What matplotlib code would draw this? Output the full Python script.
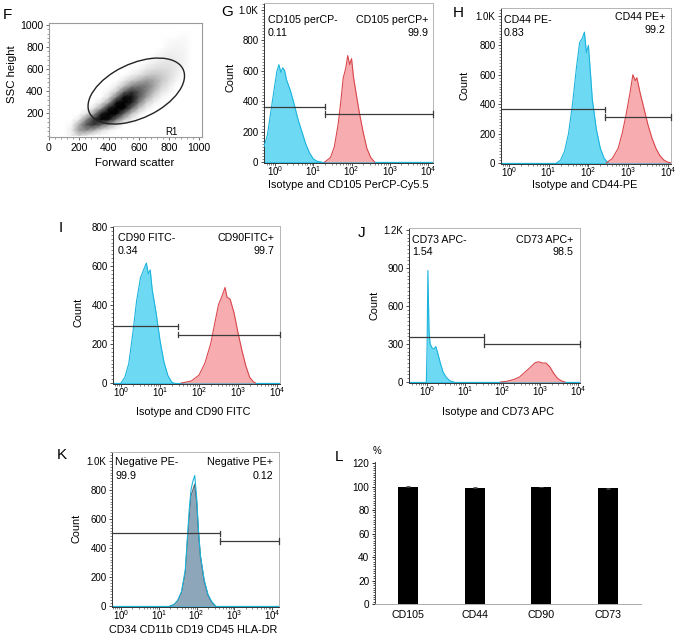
import numpy as np
import matplotlib
matplotlib.use('Agg')
import matplotlib.pyplot as plt
from matplotlib.patches import Ellipse
from matplotlib.colors import PowerNorm
from matplotlib.ticker import AutoMinorLocator, FixedLocator, FixedFormatter, LogLocator, NullFormatter

plt.rcParams['font.family'] = ['Liberation Sans', 'DejaVu Sans']
plt.rcParams['mathtext.fontset'] = 'custom'
plt.rcParams['mathtext.rm'] = 'Liberation Sans'
plt.rcParams['mathtext.it'] = 'Liberation Sans:italic'
plt.rcParams['mathtext.bf'] = 'Liberation Sans:bold'

# ---------------- data ----------------
# F: forward / side scatter density (relative darkness, 0-10)
f_x = [100, 150, 200, 250, 300, 350, 400, 450, 500, 550, 600, 650, 700, 750, 800, 850, 900, 950]
f_y = [0, 50, 100, 150, 200, 250, 300, 350, 400, 450, 500, 550, 600, 650, 700, 750, 800, 850, 900, 950]
f_density = [
    [0, 0.3, 1.2, 0.5, 0, 0, 0, 0, 0, 0, 0, 0, 0, 0, 0, 0, 0, 0],
    [0, 0.5, 3.0, 3.5, 2.5, 1, 0.3, 0, 0, 0, 0, 0, 0, 0, 0, 0, 0, 0],
    [0, 0.2, 2.5, 5.5, 6.5, 5, 3, 1.2, 0, 0, 0, 0, 0, 0, 0, 0, 0, 0],
    [0, 0, 0.6, 3.5, 6.5, 9, 8, 4.5, 2, 0.5, 0, 0, 0, 0, 0, 0, 0, 0],
    [0, 0, 0, 0.8, 3, 7.5, 10, 8.5, 5, 2, 0.5, 0, 0, 0, 0, 0, 0, 0],
    [0, 0, 0, 0, 0.8, 3, 7.5, 10, 8.5, 5, 2, 0.5, 0, 0, 0, 0, 0, 0],
    [0, 0, 0, 0, 0, 0.8, 3, 8, 9.5, 7.5, 4, 1.5, 0.5, 0, 0, 0, 0, 0],
    [0, 0, 0, 0, 0, 0, 1, 4, 8, 8, 5.5, 3, 1.2, 0.3, 0, 0, 0, 0],
    [0, 0, 0, 0, 0, 0, 0.3, 1.5, 4.5, 6.5, 5.5, 3.8, 2.2, 0.8, 0.3, 0, 0, 0],
    [0, 0, 0, 0, 0, 0, 0, 0.5, 1.8, 3.5, 4.2, 4, 2.8, 1.4, 0.6, 0, 0, 0],
    [0, 0, 0, 0, 0, 0, 0, 0, 0.6, 1.5, 2.3, 3, 2.7, 1.8, 1.0, 0.3, 0, 0],
    [0, 0, 0, 0, 0, 0, 0, 0, 0, 0.4, 0.8, 1.5, 1.8, 1.6, 1.1, 0.5, 0, 0],
    [0, 0, 0, 0, 0, 0, 0, 0, 0, 0, 0.2, 0.7, 1.0, 1.1, 1.0, 0.6, 0.2, 0],
    [0, 0, 0, 0, 0, 0, 0, 0, 0, 0, 0, 0.2, 0.5, 0.7, 0.8, 0.6, 0.3, 0],
    [0, 0, 0, 0, 0, 0, 0, 0, 0, 0, 0, 0, 0.2, 0.4, 0.6, 0.5, 0.3, 0],
    [0, 0, 0, 0, 0, 0, 0, 0, 0, 0, 0, 0, 0, 0.2, 0.4, 0.4, 0.3, 0],
    [0, 0, 0, 0, 0, 0, 0, 0, 0, 0, 0, 0, 0, 0, 0.2, 0.3, 0.2, 0],
    [0, 0, 0, 0, 0, 0, 0, 0, 0, 0, 0, 0, 0, 0, 0.1, 0.2, 0.2, 0],
    [0, 0, 0, 0, 0, 0, 0, 0, 0, 0, 0, 0, 0, 0, 0, 0, 0.1, 0],
    [0, 0, 0, 0, 0, 0, 0, 0, 0, 0, 0, 0, 0, 0, 0, 0, 0, 0],
]
f_gate_center = (583, 402)
f_gate_width = 750
f_gate_height = 454
f_gate_angle = 40
f_gate_name = 'R1'

# G: CD105 (x in log10 units)
g_iso_x = [-0.29, -0.2, -0.1, 0.0, 0.05, 0.1, 0.15, 0.2, 0.25, 0.3, 0.4, 0.5, 0.6, 0.7, 0.8, 0.9, 1.0, 1.1, 1.2]
g_iso_y = [100, 180, 350, 520, 600, 640, 590, 620, 600, 540, 470, 380, 280, 200, 120, 60, 20, 5, 0]
g_pos_x = [1.3, 1.45, 1.55, 1.65, 1.72, 1.78, 1.85, 1.9, 1.95, 2.0, 2.05, 2.12, 2.2, 2.3, 2.4, 2.5, 2.6]
g_pos_y = [0, 30, 100, 250, 400, 550, 620, 700, 640, 680, 560, 450, 330, 200, 90, 30, 0]
g_split, g_neg_level, g_pos_level = 1.31, 365, 315
g_labels = ['CD105 perCP-', '0.11', 'CD105 perCP+', '99.9']

# H: CD44
h_iso_x = [1.2, 1.3, 1.4, 1.5, 1.6, 1.7, 1.78, 1.85, 1.9, 1.95, 2.0, 2.05, 2.1, 2.2, 2.3, 2.4, 2.5]
h_iso_y = [0, 20, 80, 200, 400, 650, 820, 850, 890, 750, 800, 620, 430, 230, 100, 30, 0]
h_pos_x = [2.45, 2.6, 2.75, 2.85, 2.95, 3.05, 3.12, 3.18, 3.22, 3.3, 3.4, 3.5, 3.6, 3.7, 3.8, 3.9, 4.0, 4.08]
h_pos_y = [0, 30, 100, 200, 330, 480, 600, 560, 580, 480, 370, 260, 170, 100, 50, 20, 5, 0]
h_split, h_neg_level, h_pos_level = 2.41, 365, 312
h_labels = ['CD44 PE-', '0.83', 'CD44 PE+', '99.2']

# I: CD90
i_iso_x = [0.0, 0.1, 0.2, 0.3, 0.4, 0.5, 0.6, 0.65, 0.7, 0.75, 0.8, 0.9, 1.0, 1.1, 1.2, 1.3, 1.35]
i_iso_y = [0, 30, 100, 250, 420, 540, 590, 615, 560, 580, 480, 360, 220, 110, 40, 5, 0]
i_pos_x = [1.55, 1.8, 2.0, 2.15, 2.3, 2.4, 2.5, 2.6, 2.67, 2.72, 2.8, 2.9, 3.0, 3.1, 3.2, 3.3, 3.4, 3.45]
i_pos_y = [0, 10, 40, 100, 200, 300, 400, 450, 490, 440, 430, 360, 260, 170, 90, 30, 5, 0]
i_split, i_neg_level, i_pos_level = 1.46, 290, 248
i_labels = ['CD90 FITC-', '0.34', 'CD90FITC+', '99.7']

# J: CD73
j_iso_x = [-0.02, 0.0, 0.02, 0.05, 0.08, 0.13, 0.18, 0.23, 0.28, 0.35, 0.42, 0.5, 0.6, 0.7]
j_iso_y = [0, 300, 880, 400, 300, 270, 260, 280, 230, 150, 80, 40, 10, 0]
j_pos_x = [1.95, 2.1, 2.3, 2.45, 2.6, 2.75, 2.85, 2.95, 3.05, 3.15, 3.25, 3.35, 3.45, 3.55, 3.65]
j_pos_y = [0, 5, 20, 40, 80, 120, 150, 160, 150, 150, 120, 70, 30, 10, 0]
j_split, j_neg_level, j_pos_level = 1.52, 355, 300
j_labels = ['CD73 APC-', '1.54', 'CD73 APC+', '98.5']

# K: negative markers
k_iso_x = [1.3, 1.4, 1.5, 1.6, 1.7, 1.75, 1.8, 1.85, 1.9, 1.95, 2.0, 2.05, 2.1, 2.2, 2.3, 2.4, 2.5]
k_iso_y = [0, 10, 40, 100, 250, 450, 650, 800, 860, 900, 750, 520, 350, 180, 80, 30, 0]
k_pos_x = [1.3, 1.4, 1.5, 1.6, 1.7, 1.75, 1.8, 1.85, 1.9, 1.95, 2.0, 2.05, 2.1, 2.2, 2.3, 2.4, 2.5]
k_pos_y = [0, 8, 35, 90, 230, 420, 600, 760, 800, 840, 720, 500, 340, 170, 75, 25, 0]
k_split, k_neg_level, k_pos_level = 2.63, 500, 450
k_labels = ['Negative PE-', '99.9', 'Negative PE+', '0.12']

# L: percentage positive
l_markers = ['CD105', 'CD44', 'CD90', 'CD73']
l_values = [99.9, 99.2, 99.7, 98.5]
l_errors = [0.3, 0.3, 0.3, 0.3]

# ---------------- figure ----------------
W, H = 677, 644
fig = plt.figure(figsize=(W / 100, H / 100), dpi=100)

def add_ax(l, t, r, b):
    return fig.add_axes([l / W, 1 - b / H, (r - l) / W, (b - t) / H])

def ftext(x, y, s, **kw):
    kw.setdefault('va', 'center')
    fig.text(x / W, 1 - y / H, s, **kw)

CYAN_FILL = '#55d3f2'
CYAN_EDGE = '#1cb4dd'
RED_FILL = '#f7a3a6'
RED_EDGE = '#d9474d'
GATE = '#3b3b3b'
TICK_FS = 7.0
LAB_FS = 7.8
IN_FS = 7.7

# ---- F ----
axF = add_ax(49, 23, 202, 137)
Xg, Yg = np.meshgrid(f_x, f_y)
axF.pcolormesh(Xg, Yg, np.array(f_density, float), cmap='Greys',
               norm=PowerNorm(gamma=0.7, vmin=0, vmax=8.5), shading='gouraud')
axF.add_patch(Ellipse(f_gate_center, f_gate_width, f_gate_height, angle=f_gate_angle,
                      fill=False, ec='#222222', lw=1.0))
axF.text(817, 34, f_gate_name, fontsize=7, ha='center', va='center')
axF.set_xlim(0, 1022)
axF.set_ylim(-12, 1015)
axF.set_xticks([0, 200, 400, 600, 800, 1000])
axF.set_yticks([200, 400, 600, 800, 1000])
axF.xaxis.set_minor_locator(AutoMinorLocator(5))
axF.yaxis.set_minor_locator(AutoMinorLocator(5))
axF.tick_params(which='major', length=2.5, width=0.6, labelsize=7.6, pad=1.5, color='#555555')
axF.tick_params(which='minor', length=1.3, width=0.5, color='#777777')
for s in axF.spines.values():
    s.set_color('#9a9a9a')
    s.set_linewidth(0.8)
ftext(135, 163, 'Forward scatter', fontsize=8.2, ha='center')
ftext(12, 74, 'SSC height', fontsize=8.2, ha='center', rotation=90)

# ---- histogram helper ----
def hist_panel(rect, xlim, ylim, yticks, yticklabels, curves, split, neg_level, pos_level,
               labels, label_pos, xlabel, xlabel_pos, count_pos):
    ax = add_ax(*rect)
    ax.set_xscale('log')
    ax.set_xlim(10 ** xlim[0], 10 ** xlim[1])
    ax.set_ylim(*ylim)
    ax.axhline(0, color=CYAN_EDGE, lw=0.9, zorder=1)
    for xs, ys, fc, ec, alpha in curves:
        xv = 10 ** np.array(xs, float)
        ax.fill_between(xv, 0, ys, color=fc, alpha=alpha, lw=0, zorder=2)
        ax.plot(xv, ys, color=ec, lw=0.8, zorder=3)
    x0, x1 = 10 ** xlim[0], 10 ** xlim[1]
    xs_ = 10 ** split
    cap = (ylim[1] - ylim[0]) * 0.018
    ax.plot([x0, xs_], [neg_level, neg_level], color=GATE, lw=0.9, zorder=4)
    ax.plot([xs_, x1], [pos_level, pos_level], color=GATE, lw=0.9, zorder=4)
    ax.plot([xs_, xs_], [neg_level - cap, neg_level + cap], color=GATE, lw=0.9, zorder=4)
    ax.plot([xs_, xs_], [pos_level - cap, pos_level + cap], color=GATE, lw=0.9, zorder=4)
    ax.plot([x1, x1], [pos_level - cap, pos_level + cap], color=GATE, lw=0.9, zorder=4,
            clip_on=False)
    ax.xaxis.set_major_locator(FixedLocator([1, 10, 100, 1000, 10000]))
    ax.xaxis.set_major_formatter(FixedFormatter(['$10^{0}$', '$10^{1}$', '$10^{2}$',
                                                 '$10^{3}$', '$10^{4}$']))
    ax.xaxis.set_minor_locator(LogLocator(base=10, subs=np.arange(2, 10), numticks=20))
    ax.xaxis.set_minor_formatter(NullFormatter())
    ax.set_yticks(yticks)
    ax.set_yticklabels(yticklabels)
    ax.yaxis.set_minor_locator(AutoMinorLocator(10))
    ax.tick_params(which='major', length=2.5, width=0.6, labelsize=TICK_FS, pad=1.5,
                   color='#333333')
    ax.tick_params(axis='x', which='major', length=2, pad=-1.2)
    ax.tick_params(axis='x', which='minor', length=1.2)
    ax.tick_params(which='minor', width=0.5, color='#555555')
    ax.tick_params(axis='y', which='minor', length=1.3)
    for side in ['left', 'bottom']:
        ax.spines[side].set_color('#333333')
        ax.spines[side].set_linewidth(0.7)
    for side in ['top', 'right']:
        ax.spines[side].set_color('#b5b5b5')
        ax.spines[side].set_linewidth(0.7)
    ftext(xlabel_pos[0], xlabel_pos[1], xlabel, fontsize=LAB_FS, ha='center')
    ftext(count_pos[0], count_pos[1], 'Count', fontsize=LAB_FS, ha='center', rotation=90)
    (lx, ly1, ly2), (rx, ry1, ry2) = label_pos
    ftext(lx, ly1, labels[0], fontsize=IN_FS, ha='left')
    ftext(lx, ly2, labels[1], fontsize=IN_FS, ha='left')
    ftext(rx, ry1, labels[2], fontsize=IN_FS, ha='right')
    ftext(rx, ry2, labels[3], fontsize=IN_FS, ha='right')
    return ax

t1000 = [0, 200, 400, 600, 800, 1000]
l1000 = ['0', '200', '400', '600', '800', '1.0K']

hist_panel((264, 3, 433, 163), (-0.29, 4.13), (-6.6, 1046), t1000, l1000,
           [(g_iso_x, g_iso_y, CYAN_FILL, CYAN_EDGE, 0.85),
            (g_pos_x, g_pos_y, RED_FILL, RED_EDGE, 0.9)],
           g_split, g_neg_level, g_pos_level, g_labels,
           ((268, 20, 33), (428, 20, 33)), 'Isotype and CD105 PerCP-Cy5.5',
           (348, 185), (230, 77))

hist_panel((501, 8, 671, 164), (-0.2, 4.08), (-6.8, 1054), t1000, l1000,
           [(h_iso_x, h_iso_y, CYAN_FILL, CYAN_EDGE, 0.85),
            (h_pos_x, h_pos_y, RED_FILL, RED_EDGE, 0.9)],
           h_split, h_neg_level, h_pos_level, h_labels,
           ((504, 20, 33), (665, 17, 30)), 'Isotype and CD44-PE',
           (585, 185), (464, 85))

hist_panel((113, 226, 280, 384), (-0.205, 4.08), (-5.1, 805), [0, 200, 400, 600, 800],
           ['0', '200', '400', '600', '800'],
           [(i_iso_x, i_iso_y, CYAN_FILL, CYAN_EDGE, 0.85),
            (i_pos_x, i_pos_y, RED_FILL, RED_EDGE, 0.9)],
           i_split, i_neg_level, i_pos_level, i_labels,
           ((118, 238, 251), (274, 238, 251)), 'Isotype and CD90 FITC',
           (193, 412), (78, 312))

hist_panel((409, 228, 580, 383), (-0.48, 4.05), (-7.9, 1216), [0, 300, 600, 900, 1200],
           ['0', '300', '600', '900', '1.2K'],
           [(j_iso_x, j_iso_y, CYAN_FILL, CYAN_EDGE, 0.85),
            (j_pos_x, j_pos_y, RED_FILL, RED_EDGE, 0.9)],
           j_split, j_neg_level, j_pos_level, j_labels,
           ((412, 240, 252), (573, 240, 252)), 'Isotype and CD73 APC',
           (498, 412), (374, 305))

hist_panel((112, 452, 279, 607), (-0.24, 4.18), (-6.9, 1062), t1000, l1000,
           [(k_pos_x, k_pos_y, '#8ea6ba', '#5a6068', 1.0),
            (k_iso_x, k_iso_y, '#8ea6ba', CYAN_EDGE, 0.0)],
           k_split, k_neg_level, k_pos_level, k_labels,
           ((115, 462, 476), (273, 462, 476)), 'CD34 CD11b CD19 CD45 HLA-DR',
           (193, 630), (77, 528))

# ---- L ----
axL = add_ax(375, 462, 641, 604)
xpos = np.arange(len(l_markers))
axL.bar(xpos, l_values, width=0.3, color='black', yerr=l_errors, capsize=1.5,
        error_kw=dict(elinewidth=0.6, capthick=0.6, ecolor='#444444'))
axL.set_xlim(-0.5, 3.5)
axL.set_ylim(0, 121)
axL.set_xticks(xpos)
axL.set_xticklabels(l_markers)
axL.set_yticks([0, 20, 40, 60, 80, 100, 120])
axL.yaxis.set_minor_locator(AutoMinorLocator(10))
axL.tick_params(axis='x', length=0, labelsize=7.7, pad=4)
axL.tick_params(axis='y', which='major', length=2.5, width=0.6, labelsize=7.2, pad=1.5)
axL.tick_params(axis='y', which='minor', length=1.3, width=0.5)
axL.spines['top'].set_visible(False)
axL.spines['right'].set_visible(False)
axL.spines['left'].set_color('#444444')
axL.spines['bottom'].set_color('#aaaaaa')
axL.spines['left'].set_linewidth(0.7)
axL.spines['bottom'].set_linewidth(0.7)
ftext(377, 451, '%', fontsize=7, ha='center')

# ---- panel letters ----
for letter, (x, y) in {'F': (7, 15), 'G': (227, 12), 'H': (458, 13), 'I': (61, 228),
                       'J': (362, 233), 'K': (62, 455), 'L': (339, 457)}.items():
    ftext(x, y, letter, fontsize=11, ha='center')

fig.savefig('out.png', dpi=100)
